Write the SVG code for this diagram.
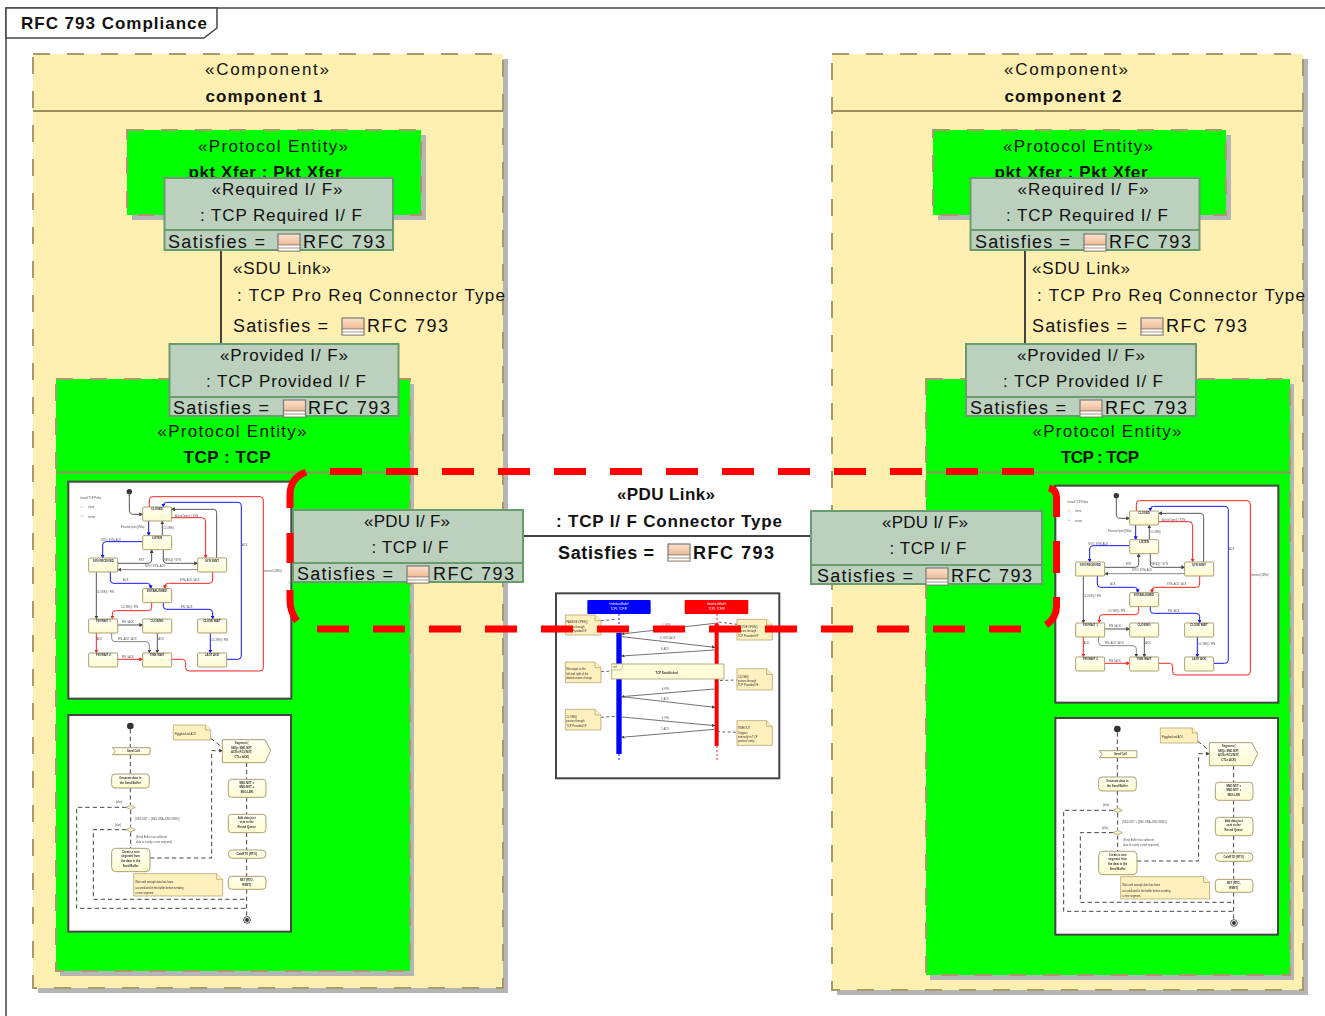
<svg xmlns="http://www.w3.org/2000/svg" xmlns:xlink="http://www.w3.org/1999/xlink" width="1325" height="1016" viewBox="0 0 1325 1016">
<style>
text{font-family:"Liberation Sans",Arial,sans-serif;fill:#111}
.n{font-size:17px}
.l{font-size:18px}
.b{font-size:17px;font-weight:bold}
.m{text-anchor:middle}
.comp{fill:#FFEFB0;stroke:#A89B6B;stroke-width:2;stroke-dasharray:17 17}
.ent{fill:#00FF00;stroke:#A89B6B;stroke-width:2;stroke-dasharray:17 17}
.shadow{fill:#B5B5B5}
.sep{stroke:#9A8F5F;stroke-width:2;fill:none}
.port{fill:#BCD0BE;stroke:#6A9B6E;stroke-width:2}
.conn{stroke:#444;stroke-width:2;fill:none}
.thumb{fill:#fff;stroke:#444;stroke-width:2}
.st{fill:url(#stf);stroke:#A8A070;stroke-width:3}
.e{fill:none;stroke-width:3}
.eD{stroke:#555}.eB{stroke:#1414FF}.eR{stroke:#FF2020}.eG{stroke:#888}
.s{font-size:8px;fill:#555}
.sb{font-size:8.5px;font-weight:bold;text-anchor:middle;fill:#333}
.ad{fill:none;stroke:#444;stroke-width:3;stroke-dasharray:13 9}
.act{fill:url(#stf);stroke:#A8A070;stroke-width:3}
.note{fill:#FFF0BE;stroke:#B8A878;stroke-width:2.5}
.red{fill:none;stroke:#FF0000;stroke-width:7}
.msg{fill:none;stroke:#555;stroke-width:2.5}
.soft{filter:url(#soft)}
</style>
<defs>
<filter id="soft" x="-5%" y="-5%" width="110%" height="110%"><feGaussianBlur stdDeviation="0.3"/></filter>
<linearGradient id="stf" x1="0" y1="0" x2="0" y2="1"><stop offset="0" stop-color="#FFFFF4"/><stop offset="1" stop-color="#FFFBD0"/></linearGradient>
<linearGradient id="ic" x1="0" y1="0" x2="0" y2="1"><stop offset="0" stop-color="#FBE3CF"/><stop offset="1" stop-color="#E8A472"/></linearGradient>
<marker id="mD" markerWidth="4" markerHeight="4" refX="3.4" refY="2" orient="auto"><path d="M0,0 L4,2 L0,4 z" fill="#444"/></marker>
<marker id="mB" markerWidth="4" markerHeight="4" refX="3.4" refY="2" orient="auto"><path d="M0,0 L4,2 L0,4 z" fill="#1414FF"/></marker>
<marker id="mR" markerWidth="4" markerHeight="4" refX="3.4" refY="2" orient="auto"><path d="M0,0 L4,2 L0,4 z" fill="#FF2020"/></marker>
<g id="ricon">
<rect x="0" y="0" width="22" height="17" fill="url(#ic)" stroke="#777" stroke-width="1.2"/>
<path d="M0,11H22M0,14H22" stroke="#777" stroke-width="1"/>
<rect x="0.6" y="11.5" width="20.8" height="2" fill="#fff"/>
<rect x="0.6" y="14.5" width="20.8" height="2" fill="#fff"/>
</g>
<g id="sm" transform="translate(60,475) scale(0.3333)">
<rect class="thumb" x="25" y="20" width="669" height="651" style="stroke-width:6"/>
<circle cx="208" cy="50" r="8" fill="#333"/>
<text class="s" x="60" y="72">closed TCP Paths</text>
<rect x="62" y="93" width="6" height="5" fill="#FFC8C8"/><text class="s" x="84" y="100">client</text>
<rect x="62" y="121" width="6" height="5" fill="#C8C8FF"/><text class="s" x="84" y="128">server</text>
<path class="e eD" marker-end="url(#mD)" d="M208,50V105Q208,118 220,118H248"/>
<path class="e eR" marker-start="url(#mR)" d="M335,553H367Q377,553 377,563V578Q377,588 388,588H600Q610,588 610,578V75Q610,65 600,65H278Q268,65 268,75V96"/>
<path class="e eB" marker-end="url(#mB)" d="M501,553H533Q544,553 544,543V92Q544,82 534,82H320Q310,82 310,92V96"/>
<path class="e eD" marker-end="url(#mD)" d="M470,249V112Q470,103 460,103H335"/>
<path class="e eR" marker-end="url(#mR)" d="M335,128H425Q437,128 437,140V249"/>
<path class="e eB" marker-end="url(#mB)" d="M266,138V182"/>
<path class="e eD" marker-end="url(#mD)" d="M307,182V138"/>
<path class="e eB" marker-end="url(#mB)" d="M248,200H138Q128,200 128,210V249"/>
<path class="e eD" marker-end="url(#mD)" d="M174,265H265Q275,265 275,255V224"/>
<path class="e eD" marker-end="url(#mD)" d="M310,224V255Q310,265 320,265H413"/>
<path class="e eG" marker-end="url(#mD)" d="M413,284H174"/>
<path class="e eB" marker-end="url(#mB)" d="M151,291V315Q151,325 161,325H262Q272,325 272,335V341"/>
<path class="e eR" marker-end="url(#mR)" d="M458,291V315Q458,325 448,325H325Q315,325 315,335V341"/>
<path class="e eD" marker-end="url(#mD)" d="M109,291V432"/>
<path class="e eR" marker-end="url(#mR)" d="M275,382V397Q275,407 265,407H167Q157,407 157,417V432"/>
<path class="e eB" marker-end="url(#mB)" d="M310,382V394Q310,403 320,403H447Q458,403 458,413V432"/>
<path class="e eD" marker-end="url(#mD)" d="M174,450H248"/>
<path class="e eR" marker-end="url(#mR)" d="M109,473V534"/>
<path class="e eG" marker-end="url(#mD)" d="M155,473V490Q155,500 165,500H258Q268,500 268,510V534"/>
<path class="e eD" marker-end="url(#mD)" d="M292,473V534"/>
<path class="e eB" marker-end="url(#mB)" d="M451,473V534"/>
<path class="e eR" marker-end="url(#mR)" d="M174,553H248"/>
<rect class="st" x="248" y="96" width="87" height="42" rx="3"/><text class="sb" x="291" y="106">CLOSED</text>
<rect class="st" x="248" y="182" width="87" height="42" rx="3"/><text class="sb" x="291" y="192">LISTEN</text>
<rect class="st" x="86" y="249" width="87" height="42" rx="3"/><text class="sb" x="130" y="260">SYN RECEIVED</text>
<rect class="st" x="413" y="249" width="87" height="42" rx="3"/><text class="sb" x="456" y="260">SYN SENT</text>
<rect class="st" x="248" y="341" width="87" height="42" rx="3"/><text class="sb" x="291" y="351">ESTABLISHED</text>
<rect class="st" x="86" y="432" width="87" height="42" rx="3"/><text class="sb" x="130" y="442">FIN WAIT 1</text>
<rect class="st" x="248" y="432" width="87" height="42" rx="3"/><text class="sb" x="291" y="442">CLOSING</text>
<rect class="st" x="413" y="432" width="87" height="42" rx="3"/><text class="sb" x="456" y="442">CLOSE WAIT</text>
<rect class="st" x="86" y="534" width="87" height="42" rx="3"/><text class="sb" x="130" y="544">FIN WAIT 2</text>
<rect class="st" x="248" y="534" width="87" height="42" rx="3"/><text class="sb" x="291" y="544">TIME WAIT</text>
<rect class="st" x="413" y="534" width="87" height="42" rx="3"/><text class="sb" x="456" y="544">LAST ACK</text>
<text class="s" x="183" y="158">PassiveOpen()/Map</text>
<text class="s" x="123" y="198">SYN / SYN+ACK</text>
<text class="s" x="345" y="125">ActiveOpen() / SYN</text>
<text class="s" x="310" y="163">CLOSE()</text>
<text class="s" x="237" y="258">RST</text>
<text class="s" x="312" y="258">SEND() / SYN</text>
<text class="s" x="255" y="277">SYN / SYN+ACK</text>
<text class="s" x="189" y="319">ACK</text>
<text class="s" x="359" y="319">SYN+ACK / ACK</text>
<text class="s" x="110" y="355">CLOSE() / FIN</text>
<text class="s" x="183" y="399">CLOSE() / FIN</text>
<text class="s" x="362" y="399">FIN / ACK</text>
<text class="s" x="186" y="444">FIN / ACK</text>
<text class="s" x="110" y="496">ACK</text>
<text class="s" x="174" y="494">FIN+ACK / ACK</text>
<text class="s" x="295" y="496">ACK</text>
<text class="s" x="453" y="497">CLOSE() / FIN</text>
<text class="s" x="186" y="549">FIN / ACK</text>
<text class="s" x="546" y="214">ACK</text>
<text class="s" x="612" y="291">timeout (2MSL)</text>
</g>
<g id="ad" transform="translate(60,710) scale(0.3333)">
<rect class="thumb" x="25" y="15" width="668" height="650" style="stroke-width:6"/>
<circle cx="211" cy="48" r="10" fill="#333"/>
<path class="ad" d="M211,58V113M211,134V191M211,234V284M212,300V350M212,367V415"/>
<path class="ad" d="M199,292H50V595H560"/>
<path class="ad" d="M199,359H100V568H560"/>
<path class="ad" marker-end="url(#mD)" d="M270,444H455V122H487"/>
<path class="ad" d="M452,85L487,112M560,158V208M560,262V313M560,368V420M560,445V499M560,538V620"/>
<path class="act" d="M157,113H270V134H157L166,123.500Z"/>
<text class="sb" x="220" y="127">Send Call</text>
<rect class="act" x="155" y="192" width="113" height="42" rx="10"/>
<text class="sb" x="211" y="208">Generate data in</text><text class="sb" x="211" y="221">the Send Buffer</text>
<path d="M199,292L212,285L226,292L212,299Z M199,359L212,352L226,359L212,366Z" fill="#F6F2D8" stroke="#A8A070" stroke-width="2.5"/>
<text class="s" x="168" y="279">[else]</text><text class="s" x="165" y="349">[else]</text>
<text class="s" x="226" y="330">[SND.NXT &lt; (SND.UNA+SND.WND)]</text>
<text class="s" x="228" y="385">[Send Buffer has sufficient</text>
<text class="s" x="228" y="398">data to satisfy a new segment]</text>
<rect class="act" x="155" y="415" width="115" height="70" rx="12"/>
<text class="sb" x="212" y="428">Create a new</text><text class="sb" x="212" y="442">segment from</text><text class="sb" x="212" y="456">the data in the</text><text class="sb" x="212" y="470">Send Buffer</text>
<path class="note" d="M340,45H436L452,60V90H340Z"/><path class="note" d="M436,45V60H452"/>
<text class="s" x="344" y="74" style="fill:#333">Piggybacked ACK</text>
<path class="act" d="M487,89H615L632,122L615,158H487Z"/>
<text class="sb" x="545" y="102">Segment (</text><text class="sb" x="545" y="116">SEQ= SND.NXT,</text><text class="sb" x="545" y="130">ACK= RCV.NXT,</text><text class="sb" x="545" y="144">CTL= ACK)</text>
<rect class="act" x="505" y="208" width="113" height="54" rx="10"/>
<text class="sb" x="560" y="221">SND.NXT =</text><text class="sb" x="560" y="235">SND.NXT +</text><text class="sb" x="560" y="249">SEG.LEN</text>
<rect class="act" x="505" y="313" width="113" height="55" rx="10"/>
<text class="sb" x="560" y="326">Add data just</text><text class="sb" x="560" y="340">sent to the</text><text class="sb" x="560" y="354">Resnd Queue</text>
<rect class="act" x="505" y="420" width="113" height="25" rx="12"/>
<text class="sb" x="560" y="435">CalcRTO (RTO)</text>
<rect class="act" x="505" y="499" width="113" height="39" rx="10"/>
<text class="sb" x="560" y="513">SET (RTO,</text><text class="sb" x="560" y="527">RSMT)</text>
<circle cx="561" cy="630" r="10" fill="#fff" stroke="#333" stroke-width="2.500"/><circle cx="561" cy="630" r="6" fill="#333"/>
<path class="note" d="M221,491H470L488,508V558H221Z"/><path class="note" d="M470,491V508H488"/>
<text class="s" x="226" y="520" style="fill:#333">Wait until enough data has been</text>
<text class="s" x="226" y="536" style="fill:#333">accumulated in the buffer before sending</text>
<text class="s" x="226" y="551" style="fill:#333">a new segment.</text>
</g>
</defs>

<path id="frame" d="M6,1016V8H1325" fill="none" stroke="#444" stroke-width="1.500"/>
<g id="frame-tab">
<path d="M6,8H217V28L204,38H6Z" fill="#fff" stroke="#444" stroke-width="1.500"/>
<text x="21" y="29" style="font-size:17px;font-weight:bold" textLength="186">RFC 793 Compliance</text>
</g>

<g id="component-1">
<rect class="shadow" x="38" y="59" width="470" height="934"/>
<rect class="comp" x="33" y="54" width="470" height="934"/>
<path class="sep" d="M33,111H503"/>
<text class="n m" x="267" y="75" textLength="124">«Component»</text>
<text class="b m" x="264" y="102" textLength="117">component 1</text>
</g>
<g id="component-2">
<rect class="shadow" x="837" y="59" width="471" height="936"/>
<rect class="comp" x="832" y="54" width="471" height="936"/>
<path class="sep" d="M832,111H1303"/>
<text class="n m" x="1066" y="75" textLength="124">«Component»</text>
<text class="b m" x="1063" y="102" textLength="117">component 2</text>
</g>

<g id="pkt-xfer-1">
<rect class="shadow" x="132" y="135" width="294" height="85"/>
<rect class="ent" x="127" y="130" width="294" height="85"/>
<text class="n m" x="273" y="152" textLength="150">«Protocol Entity»</text>
<text class="b m" x="265" y="178" textLength="153">pkt Xfer : Pkt Xfer</text>
</g>
<g id="pkt-xfer-2">
<rect class="shadow" x="938" y="135" width="293" height="85"/>
<rect class="ent" x="933" y="130" width="293" height="85"/>
<text class="n m" x="1078" y="152" textLength="150">«Protocol Entity»</text>
<text class="b m" x="1071" y="178" textLength="153">pkt Xfer : Pkt Xfer</text>
</g>

<g id="tcp-1">
<rect class="shadow" x="60" y="384" width="354" height="592"/>
<rect class="ent" x="56" y="379" width="354" height="592"/>
<path class="sep" d="M56,472.500H410"/>
<text class="n m" x="232" y="437" textLength="149">«Protocol Entity»</text>
<text class="b m" x="227" y="463" textLength="87">TCP : TCP</text>
</g>
<g id="tcp-2">
<rect class="shadow" x="930" y="384" width="364" height="596"/>
<rect class="ent" x="926" y="379" width="364" height="596"/>
<path class="sep" d="M926,472.500H1290"/>
<text class="n m" x="1107" y="437" textLength="149">«Protocol Entity»</text>
<text class="b m" x="1100" y="463" textLength="78">TCP : TCP</text>
</g>

<g id="state-machine-1" class="soft"><use xlink:href="#sm" href="#sm"/></g>
<g id="state-machine-2" class="soft"><use xlink:href="#sm" href="#sm" transform="translate(987,4)"/></g>
<g id="activity-1" class="soft"><use xlink:href="#ad" href="#ad"/></g>
<g id="activity-2" class="soft"><use xlink:href="#ad" href="#ad" transform="translate(987,3)"/></g>

<g id="sequence" class="soft" transform="translate(550,590) scale(0.3333)">
<rect class="thumb" x="18" y="10" width="670" height="555" style="stroke-width:6"/>
<path d="M207,72V512" stroke="#1414FF" stroke-width="3" stroke-dasharray="6 6"/>
<path d="M501,72V512" stroke="#FF2020" stroke-width="3" stroke-dasharray="6 6"/>
<rect x="112" y="30" width="190" height="42" rx="3" fill="#0000FF"/>
<rect x="404" y="30" width="191" height="42" rx="3" fill="#FF0000"/>
<text x="207" y="45" style="font-size:8px;text-anchor:middle;fill:#fff">«interfaceMode»</text>
<text x="207" y="60" style="font-size:8px;text-anchor:middle;fill:#fff">TCP1: TCP/IP</text>
<text x="500" y="45" style="font-size:8px;text-anchor:middle;fill:#fff">«interfaceMode»</text>
<text x="500" y="60" style="font-size:8px;text-anchor:middle;fill:#fff">TCP2: TCP/IP</text>
<rect x="199" y="128" width="16" height="364" fill="#0000FF"/>
<rect x="494" y="100" width="12" height="368" fill="#FF0000"/>
<path class="ad" style="stroke-width:2.500;stroke-dasharray:9 7" d="M153,92L199,88M153,245L185,243M153,382L199,379M494,272L561,270M506,96L561,103M501,425L561,427"/>
<path class="msg" marker-end="url(#mD)" d="M494,100L215,132"/>
<path class="msg" marker-end="url(#mD)" d="M215,140L494,172"/>
<path class="msg" marker-end="url(#mD)" d="M494,180L215,198"/>
<path class="msg" marker-end="url(#mD)" d="M494,297L215,320"/>
<path class="msg" marker-end="url(#mD)" d="M215,320L494,352"/>
<path class="msg" marker-end="url(#mD)" d="M215,381L494,407"/>
<path class="msg" marker-end="url(#mD)" d="M494,418L215,442"/>
<text class="s" x="336" y="107">1: SYN</text>
<text class="s" x="330" y="147">2: SYN+ACK</text>
<text class="s" x="332" y="181">3: ACK</text>
<text class="s" x="335" y="300">4: FIN</text>
<text class="s" x="332" y="331">5: ACK</text>
<text class="s" x="335" y="386">6: FIN</text>
<text class="s" x="332" y="421">7: ACK</text>
<rect x="185" y="222" width="337" height="45" fill="#FFFCD8" stroke="#A8A070" stroke-width="2.500"/>
<path d="M185,222H218V232L210,240H185" fill="#FFFCD8" stroke="#A8A070" stroke-width="2"/>
<text class="s" x="190" y="235" style="fill:#333">ref</text>
<text class="sb" x="350" y="253">TCP Established</text>
<path class="note" d="M46,75H135L153,92V135H46Z"/><path class="note" d="M135,75V92H153"/>
<text class="s" x="49" y="100" style="fill:#333">PASSIVE OPEN()</text><text class="s" x="49" y="113" style="fill:#333">passes through</text><text class="s" x="49" y="126" style="fill:#333">TCP Provided I/F</text>
<path class="note" d="M561,88H650L667,105V150H561Z"/><path class="note" d="M650,88V105H667"/>
<text class="s" x="564" y="114" style="fill:#333">ACTIVE OPEN()</text><text class="s" x="564" y="127" style="fill:#333">passes through</text><text class="s" x="564" y="140" style="fill:#333">TCP Provided I/F</text>
<path class="note" d="M46,216H135L153,233V278H46Z"/><path class="note" d="M135,216V233H153"/>
<text class="s" x="49" y="241" style="fill:#333">Messages to the</text><text class="s" x="49" y="254" style="fill:#333">left and right of the</text><text class="s" x="49" y="267" style="fill:#333">dotted arrows change</text>
<path class="note" d="M561,236H650L667,253V300H561Z"/><path class="note" d="M650,236V253H667"/>
<text class="s" x="564" y="263" style="fill:#333">CLOSE()</text><text class="s" x="564" y="276" style="fill:#333">passes through</text><text class="s" x="564" y="289" style="fill:#333">TCP Provided I/F</text>
<path class="note" d="M46,358H135L153,375V420H46Z"/><path class="note" d="M135,358V375H153"/>
<text class="s" x="49" y="384" style="fill:#333">CLOSE()</text><text class="s" x="49" y="397" style="fill:#333">passes through</text><text class="s" x="49" y="410" style="fill:#333">TCP Provided I/F</text>
<path class="note" d="M561,392H650L667,409V466H561Z"/><path class="note" d="M650,392V409H667"/>
<text class="s" x="564" y="418" style="fill:#333">TIMEOUT</text><text class="s" x="564" y="431" style="fill:#333">Triggers</text><text class="s" x="564" y="444" style="fill:#333">internally in TCP</text><text class="s" x="564" y="457" style="fill:#333">protocol entity</text>
</g>

<g id="connectors">
<path class="conn" d="M221,251V344"/>
<path class="conn" d="M1025,251V344"/>
<path class="conn" d="M523,536H811"/>
</g>

<g id="link-label-1">
<text class="n" x="233" y="274" textLength="98">«SDU Link»</text>
<text class="n" x="237" y="301" textLength="268">: TCP Pro Req Connector Type</text>
<text class="l" x="233" y="332" textLength="95">Satisfies =</text>
<use href="#ricon" x="342" y="318"/>
<text class="l" x="367" y="332" textLength="81">RFC 793</text>
</g>
<g id="link-label-2">
<text class="n" x="1032" y="274" textLength="98">«SDU Link»</text>
<text class="n" x="1037" y="301" textLength="268">: TCP Pro Req Connector Type</text>
<text class="l" x="1032" y="332" textLength="95">Satisfies =</text>
<use href="#ricon" x="1141" y="318"/>
<text class="l" x="1166" y="332" textLength="81">RFC 793</text>
</g>
<g id="link-label-pdu">
<text class="b m" x="666" y="500" textLength="98">«PDU Link»</text>
<text class="b m" x="669" y="527" textLength="226">: TCP I/ F Connector Type</text>
<text class="l" x="558" y="559" textLength="96" style="font-weight:bold">Satisfies =</text>
<use href="#ricon" x="668" y="544"/>
<text class="l" x="693" y="559" textLength="81" style="font-weight:bold">RFC 793</text>
</g>

<g id="required-if-1">
<rect class="port" x="164.500" y="178" width="228.500" height="72"/><path class="port" d="M164.500,230H393"/>
<text class="n m" x="277" y="195" textLength="131">«Required I/ F»</text>
<text class="n m" x="281" y="221" textLength="162">: TCP Required I/ F</text>
<text class="l" x="168" y="248" textLength="97">Satisfies =</text>
<use href="#ricon" x="278" y="234"/>
<text class="l" x="303" y="248" textLength="82">RFC 793</text>
</g>
<g id="required-if-2">
<rect class="port" x="970.500" y="178" width="229" height="72"/><path class="port" d="M970.500,230H1199.500"/>
<text class="n m" x="1083" y="195" textLength="131">«Required I/ F»</text>
<text class="n m" x="1087" y="221" textLength="162">: TCP Required I/ F</text>
<text class="l" x="975" y="248" textLength="95">Satisfies =</text>
<use href="#ricon" x="1084" y="234"/>
<text class="l" x="1109" y="248" textLength="82">RFC 793</text>
</g>
<g id="provided-if-1">
<rect class="port" x="169.500" y="344" width="229" height="72"/><path class="port" d="M169.500,397H398.500"/>
<text class="n m" x="284" y="361" textLength="128">«Provided I/ F»</text>
<text class="n m" x="286" y="387" textLength="160">: TCP Provided I/ F</text>
<text class="l" x="173" y="414" textLength="96">Satisfies =</text>
<use href="#ricon" x="283.500" y="400"/>
<text class="l" x="308" y="414" textLength="82">RFC 793</text>
</g>
<g id="provided-if-2">
<rect class="port" x="966" y="344" width="230" height="72"/><path class="port" d="M966,397H1196"/>
<text class="n m" x="1081" y="361" textLength="128">«Provided I/ F»</text>
<text class="n m" x="1083" y="387" textLength="160">: TCP Provided I/ F</text>
<text class="l" x="970" y="414" textLength="96">Satisfies =</text>
<use href="#ricon" x="1080" y="400"/>
<text class="l" x="1105" y="414" textLength="82">RFC 793</text>
</g>
<g id="pdu-if-1">
<rect class="port" x="293" y="510" width="230" height="72"/><path class="port" d="M293,563H523"/>
<text class="n m" x="407" y="527" textLength="86">«PDU I/ F»</text>
<text class="n m" x="410" y="553" textLength="77">: TCP I/ F</text>
<text class="l" x="297" y="580" textLength="96">Satisfies =</text>
<use href="#ricon" x="407" y="566"/>
<text class="l" x="433" y="580" textLength="81">RFC 793</text>
</g>
<g id="pdu-if-2">
<rect class="port" x="811" y="511" width="231" height="73"/><path class="port" d="M811,565H1042"/>
<text class="n m" x="925" y="528" textLength="86">«PDU I/ F»</text>
<text class="n m" x="928" y="554" textLength="77">: TCP I/ F</text>
<text class="l" x="817" y="582" textLength="96">Satisfies =</text>
<use href="#ricon" x="926" y="568"/>
<text class="l" x="951" y="582" textLength="81">RFC 793</text>
</g>

<g id="boundary">
<path class="red" stroke-dasharray="32 24" d="M330,471.500H1036"/>
<path class="red" stroke-dasharray="32 24" d="M317,629H1022"/>
<path class="red" d="M290,508V495Q290,478 306,472"/>
<path class="red" d="M290,533V563"/>
<path class="red" d="M290,590V600Q290,612 297,621"/>
<path class="red" d="M1049,488Q1056.500,490 1056.500,497V517"/>
<path class="red" d="M1056.500,541V573"/>
<path class="red" d="M1056.500,597V606Q1056.500,618 1046,625"/>
</g>
</svg>
